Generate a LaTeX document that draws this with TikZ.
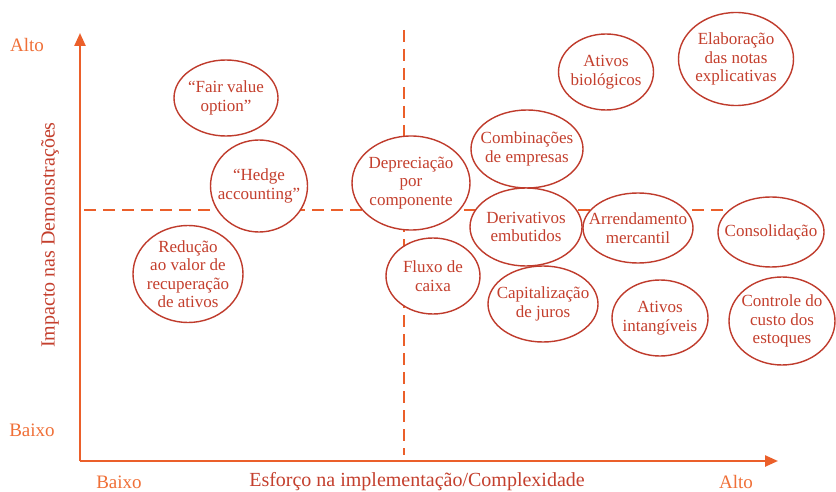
\documentclass[tikz,border=0pt]{standalone}
\usepackage{fontspec}
\setmainfont{Liberation Serif}
\usetikzlibrary{shapes.geometric,arrows.meta}
\definecolor{axisorange}{HTML}{EB5F2A}
\definecolor{lblorange}{HTML}{F07038}
\definecolor{ellred}{HTML}{BF3B2C}
\definecolor{txtred}{HTML}{C43F2D}
\tikzset{
  oval/.style={ellipse, draw=ellred, line width=1.4bp, fill=white, inner sep=0pt},
  txt/.style={text=txtred, align=center, font=\fontsize{17bp}{18.5bp}\selectfont, inner sep=0pt},
  axislbl/.style={text=lblorange, font=\fontsize{19bp}{20bp}\selectfont, inner sep=0pt},
  axistitle/.style={text=txtred, font=\fontsize{20bp}{22bp}\selectfont, inner sep=0pt},
  axisline/.style={draw=axisorange, line width=2.4bp},
  dashline/.style={draw=axisorange, line width=2.4bp, dash pattern=on 12bp off 7bp}
}
\begin{document}
\begin{tikzpicture}[x=1bp,y=-1bp]
\useasboundingbox (0,0) rectangle (836,492);
\fill[white] (0,0) rectangle (836,492);
% axes
\coordinate (origin) at (80,461);
\coordinate (ytip) at (80,33);
\coordinate (xtip) at (778,461);
\draw[axisline, -{Triangle[length=13bp,width=11bp]}] (origin) -- (ytip);
\draw[axisline, -{Triangle[length=13bp,width=11bp]}] (origin) -- (xtip);
% dashed separators
\coordinate (hs) at (84,210);
\coordinate (he) at (734,210);
\coordinate (vs) at (404,30);
\coordinate (ve) at (404,455);
\draw[dashline] (hs) -- (he);
\draw[dashline] (vs) -- (ve);
% axis labels
\node[axislbl] (alto1) at (27,45) {Alto};
\node[axislbl] (baixo1) at (32,430) {Baixo};
\node[axislbl] (baixo2) at (119,482) {Baixo};
\node[axislbl] (alto2) at (736,482) {Alto};
\node[axistitle] (xt) at (417,482) {Esforço na implementação/Complexidade};
\node[axistitle, rotate=90] (yt) at (50,235) {Impacto nas Demonstrações};
% ellipses
\node[oval, minimum width=104bp, minimum height=76bp] (e1) at (226,98) {};
\node[txt] at (e1) {“Fair value\\option”};
\node[oval, minimum width=97bp, minimum height=92bp] (e2) at (259,186) {};
\node[txt] at (e2) {“Hedge\\accounting”};
\node[oval, minimum width=110bp, minimum height=97bp] (e3) at (188,274) {};
\node[txt] at (e3) {Redução\\ao valor de\\recuperação\\de ativos};
\node[oval, minimum width=118bp, minimum height=94bp] (e4) at (411,183) {};
\node[txt] at (e4) {Depreciação\\por\\componente};
\node[oval, minimum width=112bp, minimum height=78bp] (e5) at (527,149) {};
\node[txt] at (e5) {Combinações\\de empresas};
\node[oval, minimum width=112bp, minimum height=78bp] (e6) at (526,227) {};
\node[txt] at (e6) {Derivativos\\embutidos};
\node[oval, minimum width=94bp, minimum height=76bp] (e7) at (433,276) {};
\node[txt] at (e7) {Fluxo de\\caixa};
\node[oval, minimum width=110bp, minimum height=76bp] (e8) at (543,304) {};
\node[txt] at (e8) {Capitalização\\de juros};
\node[oval, minimum width=110bp, minimum height=70bp] (e9) at (638,228) {};
\node[txt] at (e9) {Arrendamento\\mercantil};
\node[oval, minimum width=106bp, minimum height=70bp] (e10) at (771,232) {};
\node[txt] at (e10) {Consolidação};
\node[oval, minimum width=96bp, minimum height=76bp] (e11) at (660,318) {};
\node[txt] at (e11) {Ativos\\intangíveis};
\node[oval, minimum width=106bp, minimum height=88bp] (e12) at (782,321) {};
\node[txt] at (e12) {Controle do\\custo dos\\estoques};
\node[oval, minimum width=95bp, minimum height=76bp] (e13) at (606,72) {};
\node[txt] at (e13) {Ativos\\biológicos};
\node[oval, minimum width=115bp, minimum height=93bp] (e14) at (736,59) {};
\node[txt] at (e14) {Elaboração\\das notas\\explicativas};
\end{tikzpicture}
\end{document}
